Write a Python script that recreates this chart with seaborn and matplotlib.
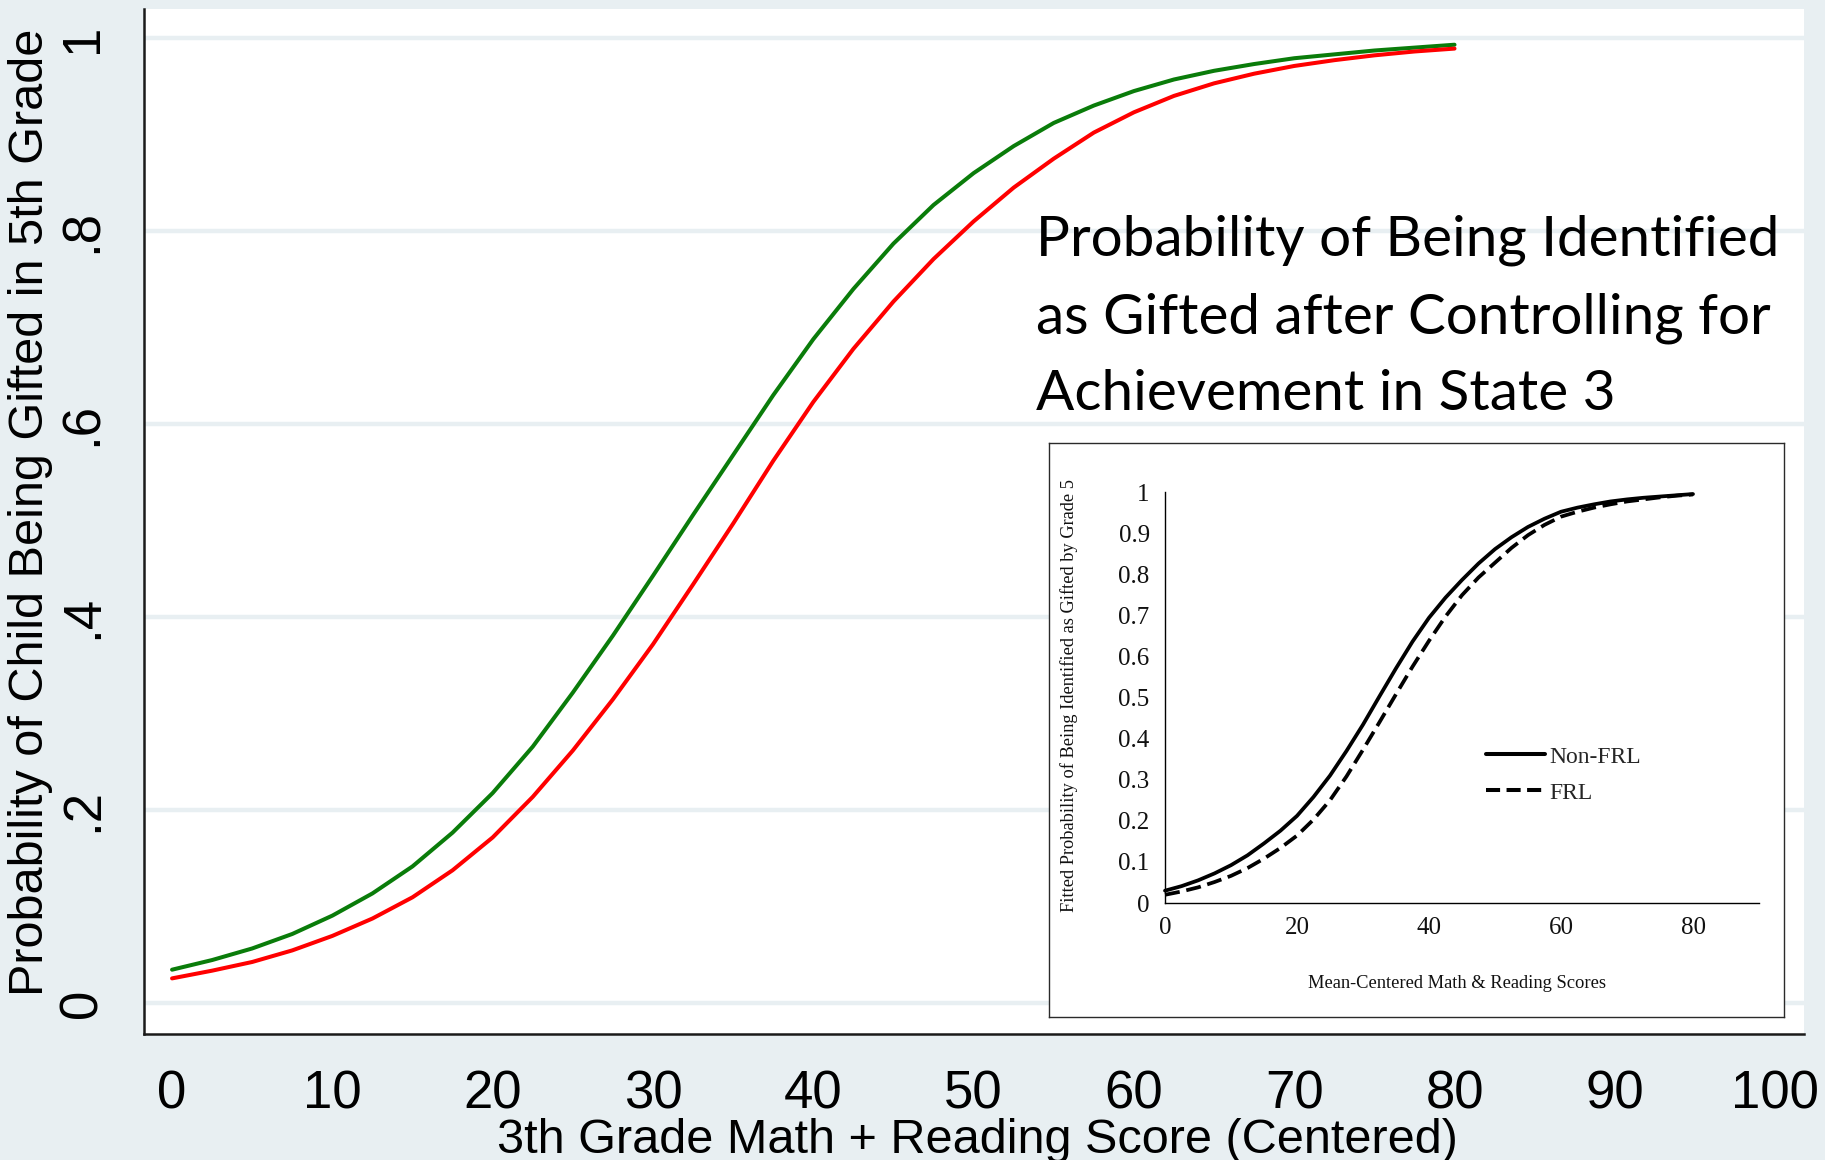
import numpy as np
import pandas as pd
import matplotlib
matplotlib.use("Agg")
import matplotlib.pyplot as plt
from matplotlib.lines import Line2D
import seaborn as sns

# ---- data -------------------------------------------------------------
score = [0, 2.5, 5, 7.5, 10, 12.5, 15, 17.5, 20, 22.5, 25, 27.5, 30, 32.5,
         35, 37.5, 40, 42.5, 45, 47.5, 50, 52.5, 55, 57.5, 60, 62.5, 65,
         67.5, 70, 72.5, 75, 77.5, 80]

prob_green = [0.035, 0.045, 0.057, 0.072, 0.091, 0.114, 0.142, 0.177, 0.218,
              0.266, 0.322, 0.381, 0.443, 0.506, 0.568, 0.630, 0.688, 0.740,
              0.787, 0.827, 0.860, 0.888, 0.912, 0.930, 0.945, 0.957, 0.966,
              0.973, 0.979, 0.983, 0.987, 0.990, 0.993]

prob_red = [0.026, 0.034, 0.043, 0.055, 0.070, 0.088, 0.110, 0.138, 0.172,
            0.214, 0.262, 0.315, 0.372, 0.434, 0.497, 0.562, 0.623, 0.678,
            0.727, 0.771, 0.810, 0.845, 0.875, 0.902, 0.923, 0.940, 0.953,
            0.963, 0.971, 0.977, 0.982, 0.986, 0.989]

inset_score = score
inset_nonfrl = [0.030, 0.041, 0.055, 0.072, 0.092, 0.116, 0.145, 0.176, 0.212,
                0.258, 0.310, 0.370, 0.434, 0.503, 0.571, 0.636, 0.694, 0.743,
                0.786, 0.826, 0.861, 0.890, 0.915, 0.935, 0.952, 0.962, 0.970,
                0.977, 0.982, 0.986, 0.989, 0.992, 0.995]
inset_frl = [0.020, 0.028, 0.038, 0.051, 0.066, 0.085, 0.108, 0.134, 0.164,
             0.203, 0.250, 0.308, 0.373, 0.440, 0.508, 0.575, 0.638, 0.697,
             0.749, 0.792, 0.828, 0.864, 0.895, 0.920, 0.940, 0.952, 0.962,
             0.970, 0.977, 0.982, 0.987, 0.991, 0.994]

main_xticks = [0, 10, 20, 30, 40, 50, 60, 70, 80, 90, 100]
main_yticks = [0, 0.2, 0.4, 0.6, 0.8, 1.0]
main_ylabels = ["0", ".2", ".4", ".6", ".8", "1"]
inset_xticks = [0, 20, 40, 60, 80]
inset_yticks = [0, 0.1, 0.2, 0.3, 0.4, 0.5, 0.6, 0.7, 0.8, 0.9, 1.0]
inset_ylabels = ["0", "0.1", "0.2", "0.3", "0.4", "0.5", "0.6", "0.7", "0.8", "0.9", "1"]

title_lines = ["Probability of Being Identified",
               "as Gifted after Controlling for",
               "Achievement in State 3"]

# ---- style ------------------------------------------------------------
sns.set_theme(style="white")
plt.rcParams["font.family"] = ["Liberation Sans", "DejaVu Sans"]

BG = "#E8EFF2"
GRID = "#E8EFF2"
INK = "#1A1A1A"

W, H = 1825, 1160
fig = plt.figure(figsize=(W / 100, H / 100), dpi=100, facecolor=BG)


def fbox(left, top, right, bottom):
    return [left / W, 1 - bottom / H, (right - left) / W, (bottom - top) / H]


# ---- main panel -------------------------------------------------------
ax = fig.add_axes(fbox(144, 9, 1804, 1034))
ax.set_facecolor("white")
for yv in main_yticks:
    ax.axhline(yv, color=GRID, lw=3.2, zorder=0)

main_df = pd.DataFrame({
    "score": score * 2,
    "prob": prob_green + prob_red,
    "group": ["Non-FRL"] * len(score) + ["FRL"] * len(score),
})
sns.lineplot(data=main_df, x="score", y="prob", hue="group",
             palette={"Non-FRL": "#0A7C0A", "FRL": "#FF0000"},
             linewidth=2.9, legend=False, estimator=None, sort=False, ax=ax)

ax.set_xlim(-1.75, 101.8)
ax.set_ylim(-0.0316, 1.030)
ax.set_xticks(main_xticks)
ax.set_xticklabels([str(t) for t in main_xticks])
ax.set_yticks(main_yticks)
ax.set_yticklabels(main_ylabels, rotation=90, va="center")
ax.tick_params(axis="both", direction="out", length=14.5, width=1.5,
               color=INK, labelsize=38, labelcolor="black")
ax.tick_params(axis="x", pad=11)
ax.tick_params(axis="y", pad=11.5)
for s in ("top", "right"):
    ax.spines[s].set_visible(False)
for s in ("left", "bottom"):
    ax.spines[s].set_color(INK)
    ax.spines[s].set_linewidth(1.8)

ax.set_xlabel("3th Grade Math + Reading Score (Centered)", fontsize=35, color="black")
ax.xaxis.set_label_coords(0.502, -0.082)
ax.set_ylabel("Probability of Child Being Gifted in 5th Grade", fontsize=35, color="black")
ax.yaxis.set_label_coords(-0.055, 0.509)

# ---- title text -------------------------------------------------------
for i, line in enumerate(title_lines):
    fig.text(1036 / W, 1 - (256 + 77 * i) / H, line, fontsize=40.8,
             family=["Lato", "DejaVu Sans"], color="black", va="baseline",
             ha="left", zorder=5)

# ---- inset panel ------------------------------------------------------
box = fig.add_axes(fbox(1049, 443, 1784, 1017), zorder=3)
box.set_facecolor("white")
box.set_xticks([])
box.set_yticks([])
for s in box.spines.values():
    s.set_color("#2A2A2A")
    s.set_linewidth(1.0)

iax = fig.add_axes(fbox(1165, 492, 1759, 903), zorder=4)
iax.patch.set_alpha(0)
inset_df = pd.DataFrame({
    "score": inset_score * 2,
    "prob": inset_nonfrl + inset_frl,
    "group": ["Non-FRL"] * len(inset_score) + ["FRL"] * len(inset_score),
})
sns.lineplot(data=inset_df, x="score", y="prob", style="group",
             dashes={"Non-FRL": "", "FRL": (4, 1.8)}, color="black",
             linewidth=2.7, legend=False, estimator=None, sort=False, ax=iax)
for ln in iax.get_lines():
    ln.set_clip_on(False)

serif = ["Liberation Serif", "DejaVu Serif"]
iax.set_xlim(0, 90)
iax.set_ylim(0, 1)
iax.set_xticks(inset_xticks)
iax.set_xticklabels([str(t) for t in inset_xticks], family=serif)
iax.set_yticks(inset_yticks)
iax.set_yticklabels(inset_ylabels, family=serif)
iax.tick_params(axis="both", direction="out", length=5, width=0.8,
                color="black", labelsize=18, labelcolor="#111111")
iax.tick_params(axis="x", pad=5)
iax.tick_params(axis="y", pad=6)
for s in ("top", "right"):
    iax.spines[s].set_visible(False)
for s in ("left", "bottom"):
    iax.spines[s].set_color("black")
    iax.spines[s].set_linewidth(1.0)

iax.set_xlabel("Mean-Centered Math & Reading Scores", fontsize=13.3,
               family=serif, color="#111111")
iax.xaxis.set_label_coords(0.492, -0.175)
iax.set_ylabel("Fitted Probability of Being Identified as Gifted by Grade 5",
               fontsize=13.2, family=serif, color="#111111")
iax.yaxis.set_label_coords(-0.146, 0.504)

handles = [Line2D([], [], color="black", lw=2.9),
           Line2D([], [], color="black", lw=2.9, dashes=(3.5, 1.6))]
iax.legend(handles, ["Non-FRL", "FRL"], loc="upper left",
           bbox_to_anchor=(1486 / W, 1 - 746 / H), bbox_transform=fig.transFigure,
           frameon=False, prop={"family": serif, "size": 17},
           handlelength=2.5, handletextpad=0.2, labelspacing=0.62, borderpad=0,
           borderaxespad=0)

fig.savefig("out.png", dpi=100, facecolor=BG)
